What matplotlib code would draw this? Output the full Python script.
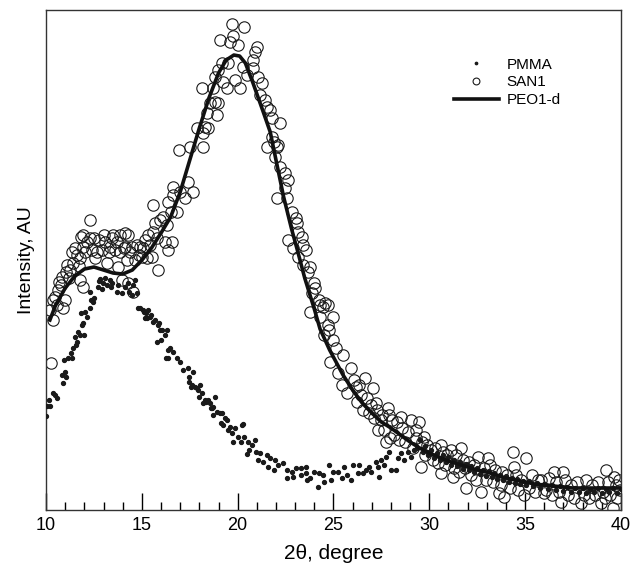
#! /usr/bin/python

# XRD scans of PMMA, SAN1 and PEO1-d, replotted from the figure

import matplotlib
matplotlib.use('Agg')
import matplotlib.pyplot as plt

plt.rcParams['font.family'] = ['Liberation Sans', 'DejaVu Sans']

# PEO1-d curve (2theta in degree, intensity in AU)
peo_x = [10.2, 10.5, 11.0, 11.5, 12.0, 12.5, 13.0, 13.5, 14.0, 14.5, 15.0, 15.5, 16.0, 16.5,
         17.0, 17.5, 18.0, 18.5, 19.0, 19.4, 19.8, 20.1, 20.4, 20.8, 21.3, 21.7, 22.0, 22.4,
         22.8, 23.1, 23.5, 24.0, 24.3, 24.8, 25.5, 26.0, 26.5, 27.0, 27.5, 28.0, 28.5, 29.0,
         29.5, 30.0, 30.5, 31.0, 31.5, 32.0, 32.5, 33.0, 33.5, 34.0, 34.5, 35.0, 35.5, 36.0,
         36.5, 37.0, 37.5, 38.0, 38.5, 39.0, 39.5, 40.0]
peo_y = [190, 205, 222, 234, 241, 243, 240, 237, 236, 240, 250, 262, 277, 293,
         318, 350, 382, 412, 437, 450, 455, 454, 447, 427, 400, 378, 350, 313,
         282, 261, 232, 201, 181, 160, 135, 120, 107, 97, 88, 82, 75, 68,
         62, 57, 53, 49, 46, 43, 40, 38, 35, 32, 30, 28, 26, 25,
         24, 23, 22, 22, 22, 22, 22, 22]

# PMMA points
pmma_x = [10.00, 10.05, 10.16, 10.21, 10.37, 10.47, 10.58, 10.84, 10.89, 10.92, 10.99, 11.05,
          11.15, 11.31, 11.36, 11.41, 11.52, 11.57, 11.62, 11.65, 11.78, 11.80, 11.88, 11.93,
          11.99, 12.04, 12.14, 12.28, 12.30, 12.32, 12.46, 12.51, 12.72, 12.74, 12.82, 12.93,
          12.95, 13.08, 13.19, 13.35, 13.37, 13.45, 13.71, 13.76, 13.97, 14.13, 14.29, 14.31,
          14.50, 14.55, 14.65, 14.76, 14.81, 14.91, 15.07, 15.09, 15.18, 15.23, 15.28, 15.33,
          15.44, 15.46, 15.59, 15.70, 15.80, 15.85, 15.87, 15.96, 15.98, 16.06, 16.22, 16.24,
          16.33, 16.35, 16.38, 16.48, 16.64, 16.85, 17.00, 17.16, 17.42, 17.44, 17.46, 17.55,
          17.63, 17.68, 17.79, 17.89, 17.94, 17.96, 18.05, 18.15, 18.17, 18.31, 18.33, 18.47,
          18.57, 18.59, 18.68, 18.70, 18.73, 18.83, 18.94, 19.10, 19.12, 19.20, 19.25, 19.36,
          19.46, 19.52, 19.62, 19.72, 19.78, 19.88, 20.04, 20.15, 20.25, 20.30, 20.31, 20.51,
          20.56, 20.58, 20.77, 20.93, 20.95, 21.08, 21.19, 21.34, 21.55, 21.60, 21.71, 21.87,
          21.97, 22.13, 22.39, 22.55, 22.60, 22.86, 22.91, 23.02, 23.28, 23.30, 23.54, 23.56,
          23.64, 23.80, 23.96, 24.17, 24.22, 24.43, 24.48, 24.74, 24.85, 25.00, 25.21, 25.47,
          25.53, 25.73, 25.89, 26.00, 26.26, 26.31, 26.52, 26.68, 26.83, 26.94, 27.20, 27.30,
          27.36, 27.46, 27.62, 27.72, 27.88, 27.98, 28.24, 28.35, 28.50, 28.66, 28.87, 29.03,
          29.18, 29.35, 29.50, 29.65, 29.80, 29.95, 30.10, 30.25, 30.40, 30.55, 30.70, 30.85,
          31.00, 31.15, 31.30, 31.45, 31.60, 31.75, 31.90, 32.05, 32.20, 32.35, 32.50, 32.65,
          32.80, 32.95, 33.10, 33.25, 33.40, 33.55, 33.70, 33.85, 34.00, 34.15, 34.30, 34.45,
          34.60, 34.75, 34.90, 35.05, 35.20, 35.40, 35.60, 35.80, 36.00, 36.20, 36.40, 36.60,
          36.80, 37.00, 37.20, 37.40, 37.60, 37.80, 38.00, 38.20, 38.40, 38.60, 38.80, 39.00,
          39.20, 39.40, 39.60, 39.80, 40.00]
pmma_y = [94, 104, 110, 104, 117, 115, 112, 135, 127, 150, 138, 133,
          152, 157, 152, 162, 173, 165, 168, 178, 175, 197, 185, 187,
          175, 198, 193, 218, 202, 210, 208, 212, 223, 229, 231, 221,
          227, 232, 225, 230, 223, 227, 218, 225, 217, 223, 227, 218,
          215, 225, 230, 217, 202, 202, 200, 198, 192, 197, 192, 200,
          193, 195, 188, 190, 168, 185, 187, 180, 170, 180, 175, 152,
          180, 152, 160, 162, 158, 152, 148, 140, 142, 133, 128, 123,
          125, 138, 123, 122, 120, 113, 125, 117, 107, 110, 108, 110,
          107, 102, 102, 95, 103, 113, 98, 97, 87, 97, 85, 92,
          90, 80, 83, 77, 68, 82, 73, 68, 85, 86, 73, 56,
          68, 60, 65, 70, 58, 50, 57, 48, 55, 43, 52, 40,
          50, 45, 47, 32, 40, 38, 33, 42, 35, 42, 37, 43,
          30, 32, 38, 23, 37, 35, 28, 45, 30, 38, 38, 32,
          43, 35, 30, 45, 37, 45, 37, 40, 43, 38, 48, 43,
          33, 50, 45, 53, 58, 40, 40, 52, 57, 50, 58, 53,
          60, 62, 70, 58, 64, 55, 60, 52, 57, 50, 55, 48,
          53, 45, 50, 44, 48, 41, 46, 40, 44, 38, 42, 36,
          40, 34, 39, 33, 37, 31, 35, 30, 34, 28, 32, 27,
          31, 26, 29, 25, 29, 24, 27, 22, 26, 21, 25, 20,
          24, 19, 23, 18, 22, 18, 22, 17, 21, 18, 22, 17,
          21, 18, 22, 17, 21]

# SAN1 points
san_x = [10.23, 10.26, 10.37, 10.37, 10.47, 10.55, 10.63, 10.70, 10.80, 10.84, 10.89, 10.99,
         11.05, 11.10, 11.18, 11.25, 11.36, 11.41, 11.50, 11.62, 11.70, 11.78, 11.78, 11.80,
         11.93, 11.95, 11.93, 12.05, 12.15, 12.30, 12.30, 12.40, 12.50, 12.58, 12.67, 12.78,
         12.93, 13.00, 13.08, 13.19, 13.27, 13.35, 13.42, 13.50, 13.61, 13.70, 13.76, 13.87,
         13.87, 13.97, 14.05, 14.13, 14.13, 14.22, 14.29, 14.29, 14.40, 14.50, 14.55, 14.65,
         14.76, 14.85, 14.91, 15.02, 15.07, 15.18, 15.28, 15.33, 15.45, 15.54, 15.59, 15.59,
         15.70, 15.80, 15.85, 15.95, 16.12, 16.22, 16.30, 16.38, 16.38, 16.50, 16.59, 16.64,
         16.64, 16.85, 16.95, 17.00, 17.27, 17.42, 17.53, 17.68, 17.89, 18.15, 18.21, 18.21,
         18.31, 18.42, 18.47, 18.57, 18.73, 18.83, 18.83, 18.94, 18.99, 18.99, 19.10, 19.20,
         19.25, 19.46, 19.51, 19.62, 19.72, 19.77, 19.88, 20.04, 20.14, 20.30, 20.35, 20.51,
         20.82, 20.82, 20.92, 21.03, 21.08, 21.19, 21.29, 21.45, 21.55, 21.55, 21.71, 21.81,
         21.81, 21.90, 21.97, 22.07, 22.07, 22.13, 22.23, 22.23, 22.49, 22.49, 22.60, 22.65,
         22.65, 22.86, 22.91, 23.02, 23.12, 23.17, 23.17, 23.38, 23.43, 23.43, 23.54, 23.69,
         23.80, 23.80, 23.90, 23.96, 24.06, 24.22, 24.32, 24.32, 24.43, 24.48, 24.58, 24.69,
         24.69, 24.78, 24.84, 24.95, 24.95, 25.11, 25.26, 25.47, 25.52, 25.73, 25.89, 26.05,
         26.15, 26.25, 26.35, 26.41, 26.55, 26.67, 26.75, 26.83, 26.95, 27.04, 27.10, 27.20,
         27.25, 27.30, 27.46, 27.55, 27.65, 27.72, 27.82, 27.90, 27.95, 28.05, 28.15, 28.30,
         28.40, 28.50, 28.60, 28.75, 28.90, 29.03, 29.15, 29.29, 29.30, 29.44, 29.55, 29.60,
         29.71, 29.80, 29.90, 30.07, 30.20, 30.30, 30.45, 30.59, 30.59, 30.70, 30.80, 30.95,
         31.12, 31.22, 31.30, 31.40, 31.55, 31.64, 31.75, 31.85, 31.90, 32.05, 32.20, 32.35,
         32.45, 32.53, 32.69, 32.85, 32.95, 33.05, 33.15, 33.30, 33.45, 33.63, 33.75, 33.80,
         33.89, 34.05, 34.20, 34.36, 34.41, 34.55, 34.65, 34.80, 34.93, 35.04, 35.20, 35.35,
         35.50, 35.65, 35.82, 35.98, 36.10, 36.25, 36.40, 36.50, 36.60, 36.75, 36.87, 36.97,
         37.10, 37.25, 37.40, 37.55, 37.70, 37.91, 38.10, 38.20, 38.35, 38.50, 38.65, 38.80,
         38.96, 39.05, 39.15, 39.22, 39.35, 39.45, 39.58, 39.64, 39.75, 39.80, 39.90, 39.95]
san_y = [200, 147, 190, 210, 213, 205, 220, 228, 225, 233, 202, 210,
         238, 245, 232, 240, 258, 247, 262, 255, 244, 252, 230, 273,
         263, 275, 223, 258, 268, 272, 290, 260, 272, 252, 258, 270,
         260, 275, 268, 247, 258, 263, 272, 275, 260, 268, 243, 258,
         275, 230, 262, 277, 263, 250, 275, 227, 258, 263, 218, 250,
         265, 255, 263, 253, 262, 270, 252, 275, 265, 253, 278, 305,
         287, 272, 240, 290, 293, 268, 285, 260, 308, 298, 268, 315,
         323, 298, 360, 318, 312, 328, 363, 318, 382, 422, 377, 363,
         383, 397, 382, 407, 422, 433, 408, 395, 440, 407, 470, 447,
         428, 422, 447, 468, 486, 474, 430, 465, 422, 443, 483, 435,
         450, 442, 458, 463, 433, 415, 427, 410, 403, 363, 400, 392,
         373, 368, 353, 363, 312, 365, 387, 343, 337, 322, 312, 330,
         270, 298, 262, 292, 287, 278, 253, 273, 265, 245, 260, 238,
         243, 198, 217, 227, 222, 210, 205, 193, 203, 175, 207, 205,
         185, 180, 148, 193, 170, 162, 137, 125, 155, 117, 142, 130,
         123, 108, 125, 115, 100, 132, 112, 97, 105, 122, 92, 107,
         100, 80, 90, 95, 80, 68, 102, 95, 72, 90, 75, 88,
         70, 93, 82, 68, 78, 90, 62, 80, 72, 88, 43, 68,
         73, 55, 65, 60, 50, 62, 47, 65, 37, 58, 45, 55,
         60, 33, 42, 55, 38, 62, 50, 42, 22, 48, 35, 45,
         30, 53, 18, 42, 30, 52, 45, 28, 40, 17, 25, 38,
         13, 35, 22, 58, 43, 35, 20, 30, 15, 52, 22, 35,
         18, 30, 30, 17, 20, 32, 15, 38, 28, 18, 8, 38,
         30, 15, 25, 12, 28, 7, 15, 30, 12, 25, 15, 28,
         7, 18, 12, 40, 28, 15, 2, 33, 25, 12, 30, 20]

leg_labels = ['PMMA', 'SAN1', 'PEO1-d']


def makePlot():

    fig = plt.figure(figsize=(6.31, 5.64), dpi=100)
    ax = fig.add_axes([0.073, 0.0957, 0.911, 0.8865])

    ax.plot(pmma_x, pmma_y, linestyle='none', marker='o', markersize=2.8,
            color='#1a1a1a', label=leg_labels[0], zorder=3)
    ax.plot(san_x, san_y, linestyle='none', marker='o', markersize=8.2,
            markerfacecolor='none', markeredgecolor='#1a1a1a', markeredgewidth=0.8,
            label=leg_labels[1], zorder=2)
    ax.plot(peo_x, peo_y, color='#111111', linewidth=2.6, label=leg_labels[2], zorder=4)

    ax.set_xlim(10, 40)
    ax.set_ylim(0, 500)
    ax.set_xticks(range(10, 41, 5))
    ax.set_xticks(range(10, 41, 1), minor=True)
    ax.set_yticks([])
    ax.tick_params(axis='x', which='major', direction='in', length=12, width=1,
                   labelsize=13, pad=5)
    ax.tick_params(axis='x', which='minor', direction='in', length=6, width=1)
    for s in ax.spines.values():
        s.set_color('#333333')
        s.set_linewidth(1.0)

    ax.set_xlabel('2θ, degree', fontsize=15, labelpad=7)
    ax.set_ylabel('Intensity, AU', fontsize=14, labelpad=8)

    leg = ax.legend(loc='upper left', bbox_to_anchor=(0.72, 0.898),
                    bbox_transform=fig.transFigure, frameon=False, fontsize=11,
                    handlelength=2.9, handletextpad=0.5, labelspacing=0.25,
                    borderpad=0, borderaxespad=0, markerscale=0.6)

    fig.savefig('out.png', dpi=100)


def main():

    makePlot()

if __name__ == '__main__': main()
